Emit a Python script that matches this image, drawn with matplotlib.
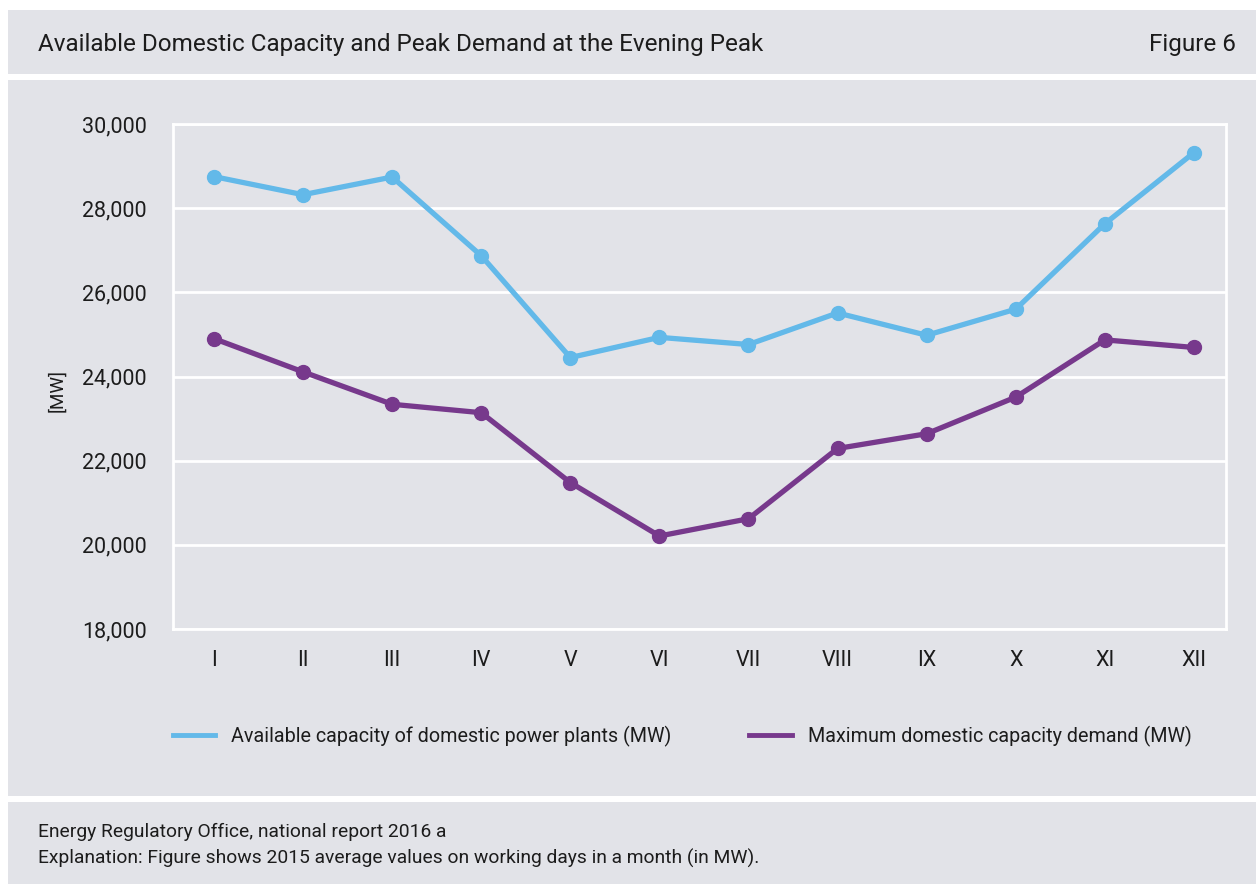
import matplotlib
matplotlib.use("Agg")
import matplotlib.pyplot as plt
from matplotlib.patches import Rectangle

months = ['I', 'II', 'III', 'IV', 'V', 'VI', 'VII', 'VIII', 'IX', 'X', 'XI', 'XII']
available = [28750, 28320, 28740, 26870, 24450, 24930, 24760, 25510, 24980, 25600, 27630, 29320]
demand = [24900, 24110, 23340, 23140, 21480, 20210, 20620, 22290, 22640, 23510, 24870, 24690]
yticks = [18000, 20000, 22000, 24000, 26000, 28000, 30000]

BG = '#e2e3e8'
BLUE = '#63b9e9'
PURPLE = '#77398c'
TXT = '#1c1c1c'

plt.rcParams['font.family'] = ['Roboto', 'DejaVu Sans']

W, H = 1256, 884
fig = plt.figure(figsize=(W / 100, H / 100), dpi=100, facecolor='white')


def panel(y0, y1):
    # pixel box (top-down y) -> figure rectangle
    fig.patches.append(Rectangle((8 / W, 1 - y1 / H), (W - 8) / W, (y1 - y0) / H,
                                 transform=fig.transFigure, facecolor=BG,
                                 edgecolor='none', zorder=-10))


panel(10, 74)
panel(80, 796)
panel(802, 884)

fig.text(38 / W, 1 - 44 / H, 'Available Domestic Capacity and Peak Demand at the Evening Peak',
         fontsize=17.5, color=TXT, va='center', ha='left')
fig.text(1236 / W, 1 - 44 / H, 'Figure 6', fontsize=17.5, color=TXT, va='center', ha='right')

fig.text(38 / W, 1 - 832 / H, 'Energy Regulatory Office, national report 2016 a',
         fontsize=13.9, color=TXT, va='center', ha='left')
fig.text(38 / W, 1 - 858 / H,
         'Explanation: Figure shows 2015 average values on working days in a month (in MW).',
         fontsize=13.9, color=TXT, va='center', ha='left')

ax = fig.add_axes([173 / W, 1 - 629 / H, 1053 / W, 505 / H])
ax.set_facecolor(BG)
x = range(len(months))
ax.plot(x, available, color=BLUE, lw=3.8, marker='o', ms=10, zorder=3,
        label='Available capacity of domestic power plants (MW)')
ax.plot(x, demand, color=PURPLE, lw=3.8, marker='o', ms=10, zorder=3,
        label='Maximum domestic capacity demand (MW)')

ax.set_xlim(-0.46, 11.36)
ax.set_ylim(18000, 30000)
ax.set_yticks(yticks)
ax.set_yticklabels([f'{v:,}' for v in yticks])
ax.set_xticks(list(x))
ax.set_xticklabels(months)
ax.tick_params(length=0, labelsize=15.5, colors=TXT)
ax.tick_params(axis='y', pad=19)
ax.tick_params(axis='x', pad=15)
ax.grid(axis='y', color='white', lw=2)
ax.set_axisbelow(True)
for s in ax.spines.values():
    s.set_color('white')
    s.set_linewidth(2)

fig.text(57 / W, 1 - 390 / H, '[MW]', rotation=90, fontsize=13.5, color=TXT,
         va='center', ha='center')

fig.legend(loc='center left', bbox_to_anchor=(173 / W, 1 - 736 / H), ncol=2,
           frameon=False, fontsize=14.2, handlelength=2.15, handletextpad=0.8,
           columnspacing=3.95, borderpad=0, borderaxespad=0, labelcolor=TXT)
leg = fig.legends[0]
for h in leg.legend_handles:
    h.set_marker('')
    h.set_linewidth(3.5)

fig.savefig('out.png', dpi=100, facecolor='white')
